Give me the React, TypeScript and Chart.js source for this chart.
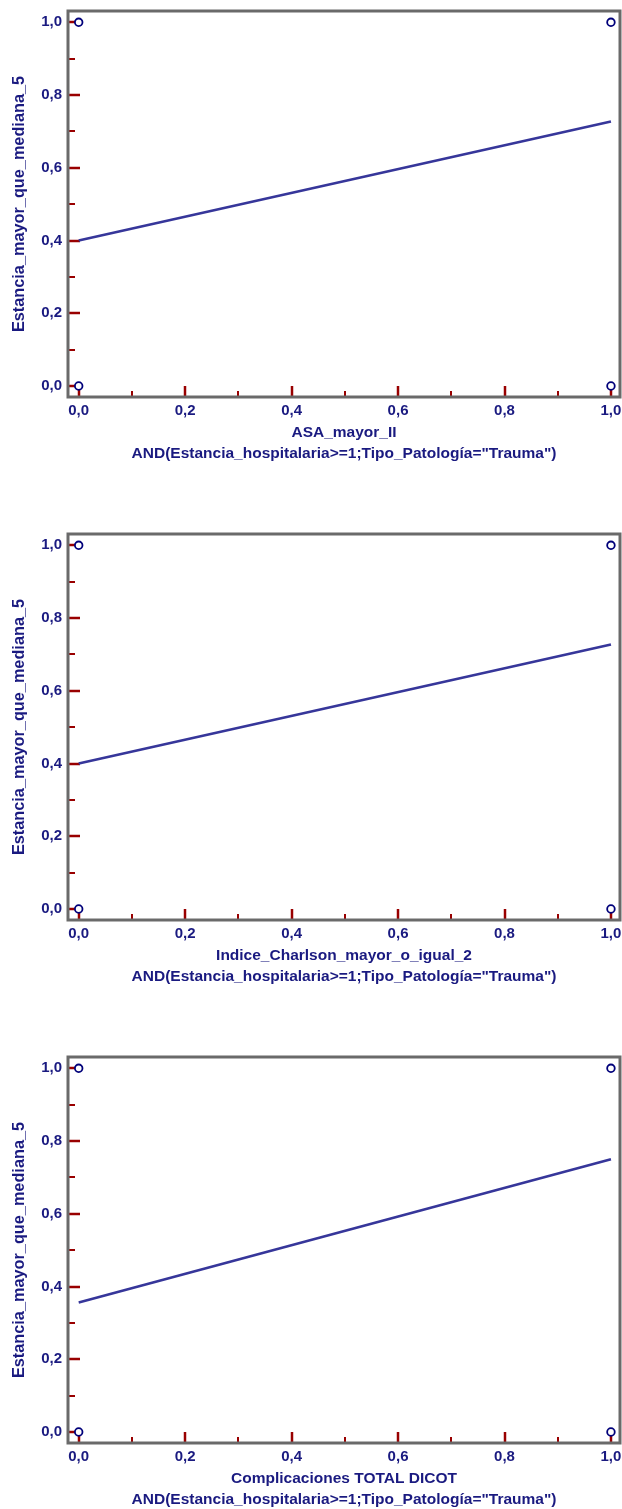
import React, { useEffect, useRef } from "react";
import { Chart, registerables } from "chart.js";

Chart.register(...registerables);

// ---- data ----
const majorTickValues = [0, 0.2, 0.4, 0.6, 0.8, 1.0];
const majorTickLabels = ["0,0", "0,2", "0,4", "0,6", "0,8", "1,0"];
const minorTickValues = [0.1, 0.3, 0.5, 0.7, 0.9];
const obsX = [0, 0, 1, 1];
const obsY = [0, 1, 0, 1];
const xAxisNames = [
  "ASA_mayor_II",
  "Indice_Charlson_mayor_o_igual_2",
  "Complicaciones TOTAL DICOT",
];
const filterLabel = 'AND(Estancia_hospitalaria>=1;Tipo_Patología="Trauma")';
const yAxisName = "Estancia_mayor_que_mediana_5";
const fitAtZero = [0.4, 0.4, 0.356];
const fitAtOne = [0.727, 0.727, 0.75];

const TEXT = "#1a1a80";
const TICK = "#990000";
const FRAME = "#6a6a6a";
const FONT = "'Liberation Sans', Arial, sans-serif";

const framePlugin = {
  id: "frameTicks",
  beforeDatasetsDraw(chart: any) {
    const { ctx, chartArea } = chart;
    const xs = chart.scales.x;
    const ys = chart.scales.y;
    ctx.save();
    ctx.strokeStyle = TICK;
    ctx.lineCap = "butt";
    const drawX = (v: number, len: number, w: number) => {
      const px = Math.round(xs.getPixelForValue(v));
      ctx.lineWidth = w;
      ctx.beginPath();
      ctx.moveTo(px, chartArea.bottom);
      ctx.lineTo(px, chartArea.bottom - len);
      ctx.stroke();
    };
    const drawY = (v: number, len: number, w: number) => {
      const py = Math.round(ys.getPixelForValue(v));
      ctx.lineWidth = w;
      ctx.beginPath();
      ctx.moveTo(chartArea.left, py);
      ctx.lineTo(chartArea.left + len, py);
      ctx.stroke();
    };
    majorTickValues.forEach((v) => drawX(v, 11, 2.5));
    minorTickValues.forEach((v) => drawX(v, 6, 2));
    majorTickValues.forEach((v) => drawY(v, 12, 2.5));
    minorTickValues.forEach((v) => drawY(v, 7, 2));
    ctx.strokeStyle = FRAME;
    ctx.lineWidth = 3;
    ctx.strokeRect(chartArea.left, chartArea.top, chartArea.right - chartArea.left, chartArea.bottom - chartArea.top);
    ctx.restore();
  },
};

function fixedTicks(scale: any) {
  scale.ticks = majorTickValues.map((v) => ({ value: v }));
}

const tickLabel = (v: any) =>
  majorTickLabels[majorTickValues.findIndex((t) => Math.abs(t - v) < 1e-6)];

function RegressionChart({ idx }: { idx: number }) {
  const ref = useRef<HTMLCanvasElement | null>(null);
  useEffect(() => {
    if (!ref.current) return;
    const chart = new Chart(ref.current, {
      type: "scatter",
      data: {
        datasets: [
          {
            type: "line",
            data: [
              { x: 0, y: fitAtZero[idx] },
              { x: 1, y: fitAtOne[idx] },
            ],
            borderColor: "#36369a",
            borderWidth: 2.6,
            pointRadius: 0,
            fill: false,
          } as any,
          {
            type: "scatter",
            data: obsX.map((x, i) => ({ x, y: obsY[i] })),
            pointRadius: 3.8,
            pointBorderWidth: 1.8,
            pointBorderColor: "#00007a",
            pointBackgroundColor: "#ffffff",
          } as any,
        ],
      },
      options: {
        animation: false,
        responsive: false,
        maintainAspectRatio: false,
        layout: { autoPadding: false, padding: { top: 11, right: 2, left: 0, bottom: 0 } },
        plugins: { legend: { display: false }, tooltip: { enabled: false } },
        scales: {
          x: {
            type: "linear",
            min: -0.0201,
            max: 1.017,
            afterBuildTicks: fixedTicks,
            afterFit: (s: any) => {
              s.height = 68;
              s.paddingLeft = 0;
              s.paddingRight = 0;
            },
            grid: { display: false, drawTicks: false },
            border: { display: false },
            ticks: {
              autoSkip: false,
              maxRotation: 0,
              padding: 5,
              color: TEXT,
              font: { family: FONT, size: 15, weight: "bold" },
              callback: tickLabel,
            },
            title: {
              display: true,
              text: [xAxisNames[idx], filterLabel],
              color: TEXT,
              font: { family: FONT, size: 15.5, weight: "bold", lineHeight: 1.35 },
              padding: { top: 0, bottom: 1 },
            },
          },
          y: {
            type: "linear",
            min: -0.0302,
            max: 1.031,
            afterBuildTicks: fixedTicks,
            afterFit: (s: any) => {
              s.width = 68;
              s.paddingTop = 0;
              s.paddingBottom = 0;
            },
            grid: { display: false, drawTicks: false },
            border: { display: false },
            ticks: {
              autoSkip: false,
              padding: 6,
              color: TEXT,
              font: { family: FONT, size: 15, weight: "bold" },
              callback: tickLabel,
            },
            title: {
              display: true,
              text: yAxisName,
              color: TEXT,
              font: { family: FONT, size: 16.3, weight: "bold", lineHeight: 1.2 },
              padding: { top: 10, bottom: 0 },
            },
          },
        },
      } as any,
      plugins: [framePlugin],
    });
    return () => chart.destroy();
  }, [idx]);
  return (
    <div style={{ position: "absolute", left: 0, top: idx * 523, width: 622, height: 465 }}>
      <canvas ref={ref} width={622} height={465} style={{ width: 622, height: 465, display: "block" }} />
    </div>
  );
}

export default function App() {
  return (
    <div style={{ position: "absolute", left: 0, top: 0, width: 622, height: 1509, background: "#ffffff" }}>
      {[0, 1, 2].map((i) => (
        <RegressionChart key={i} idx={i} />
      ))}
    </div>
  );
}
